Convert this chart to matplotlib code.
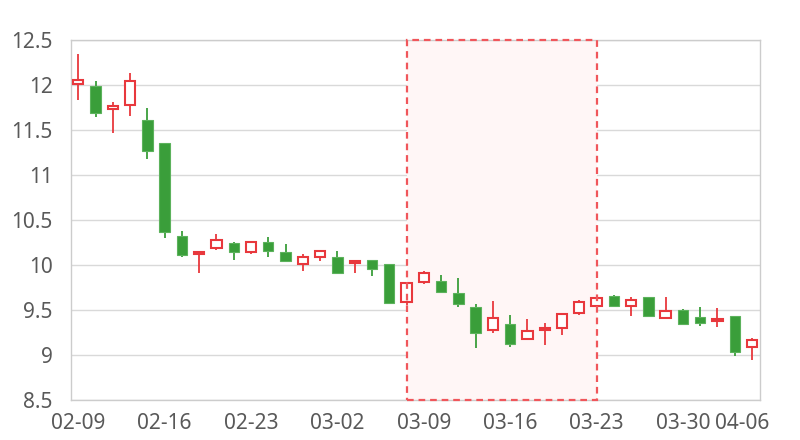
import matplotlib.pyplot as plt
import matplotlib.transforms as mtransforms

dates = [
    "02-09", "02-10", "02-11", "02-12", "02-13",
    "02-16", "02-17", "02-18", "02-19", "02-20",
    "02-23", "02-24", "02-25", "02-26", "02-27",
    "03-02", "03-03", "03-04", "03-05", "03-06",
    "03-09", "03-10", "03-11", "03-12", "03-13",
    "03-16", "03-17", "03-18", "03-19", "03-20",
    "03-23", "03-24", "03-25", "03-26", "03-27",
    "03-30", "03-31", "04-01", "04-02", "04-06",
]
opens = [12.01, 11.99, 11.73, 11.78, 11.61, 11.36, 10.32, 10.12, 10.19, 10.24,
         10.14, 10.26, 10.14, 10.01, 10.09, 10.09, 10.02, 10.06, 10.01, 9.59,
         9.81, 9.82, 9.69, 9.53, 9.28, 9.34, 9.18, 9.28, 9.30, 9.47,
         9.54, 9.66, 9.54, 9.64, 9.41, 9.50, 9.42, 9.38, 9.43, 9.09]
highs = [12.35, 12.04, 11.81, 12.13, 11.75, 11.36, 10.38, 10.15, 10.34, 10.26,
         10.26, 10.31, 10.23, 10.12, 10.15, 10.16, 10.05, 10.06, 10.01, 9.80,
         9.93, 9.89, 9.86, 9.57, 9.60, 9.44, 9.40, 9.36, 9.46, 9.61,
         9.67, 9.67, 9.64, 9.64, 9.64, 9.51, 9.53, 9.52, 9.43, 9.19]
lows = [11.83, 11.64, 11.47, 11.66, 11.18, 10.30, 10.09, 9.91, 10.17, 10.06,
        10.12, 10.09, 10.04, 9.93, 10.04, 9.91, 9.91, 9.88, 9.58, 9.56,
        9.79, 9.69, 9.53, 9.08, 9.25, 9.09, 9.18, 9.11, 9.22, 9.44,
        9.50, 9.54, 9.43, 9.43, 9.41, 9.33, 9.32, 9.31, 8.99, 8.94]
closes = [12.05, 11.69, 11.77, 12.04, 11.27, 10.37, 10.11, 10.14, 10.28, 10.14,
          10.26, 10.15, 10.04, 10.09, 10.15, 9.91, 10.04, 9.96, 9.58, 9.80,
          9.91, 9.70, 9.57, 9.24, 9.41, 9.12, 9.27, 9.30, 9.46, 9.59,
          9.63, 9.54, 9.61, 9.43, 9.49, 9.35, 9.36, 9.40, 9.03, 9.17]
highlight = ("03-06", "03-23")
tick_dates = ["02-09", "02-16", "02-23", "03-02", "03-09", "03-16", "03-23", "03-30", "04-06"]
y_ticks = [8.5, 9, 9.5, 10, 10.5, 11, 11.5, 12, 12.5]

RED = "#e8383d"
GREEN = "#3a9e3a"
TEXT = "#595959"

plt.rcParams["font.family"] = ["Noto Sans", "DejaVu Sans"]

fig = plt.figure(figsize=(8, 4.4), dpi=100)
ax = fig.add_axes([71 / 800, 1 - 400 / 440, (760 - 71) / 800, 360 / 440])

x = list(range(len(dates)))

# highlighted window
x0, x1 = dates.index(highlight[0]), dates.index(highlight[1])
ax.axvspan(x0, x1, facecolor="#fff6f6", edgecolor="none", zorder=1)
ax.axvspan(x0, x1, facecolor="none", edgecolor="#f0565b", linestyle=(0, (3, 2.2)),
           linewidth=1.6, zorder=4, clip_on=False)

width = 0.6
for i in x:
    o, h, l, c = opens[i], highs[i], lows[i], closes[i]
    up = c >= o
    color = RED if up else GREEN
    ax.vlines(i, l, h, color=color, linewidth=1.3, zorder=2)
    bottom = min(o, c)
    height = max(abs(c - o), 0.008)
    if up:
        ax.bar(i, height, width, bottom=bottom, facecolor="white", edgecolor=RED,
               linewidth=1.5, zorder=3)
    else:
        ax.bar(i, height, width, bottom=bottom, facecolor=GREEN, edgecolor="#5cb25c",
               linewidth=0.8, zorder=3)

ax.set_xlim(-0.42, len(dates) - 1 + 0.46)
ax.set_ylim(8.5, 12.5)
ax.set_yticks(y_ticks)
ax.set_yticklabels([f"{v:g}" for v in y_ticks])
ax.set_xticks([dates.index(d) for d in tick_dates])
ax.set_xticklabels(tick_dates)

ax.grid(axis="y", color="#d9d9d9", linewidth=1, zorder=0)
ax.set_axisbelow(True)
for side in ["left", "right", "bottom", "top"]:
    ax.spines[side].set_color("#cccccc")
    ax.spines[side].set_linewidth(1)
ax.tick_params(length=0, labelsize=15, labelcolor=TEXT)
ax.tick_params(axis="y", pad=13)
ax.tick_params(axis="x", pad=9)

# last label sits a little to the left in the original
last = ax.get_xticklabels()[-1]
last.set_transform(last.get_transform() + mtransforms.ScaledTranslation(-10 / 100, 0, fig.dpi_scale_trans))

fig.savefig("out.png", dpi=100)
